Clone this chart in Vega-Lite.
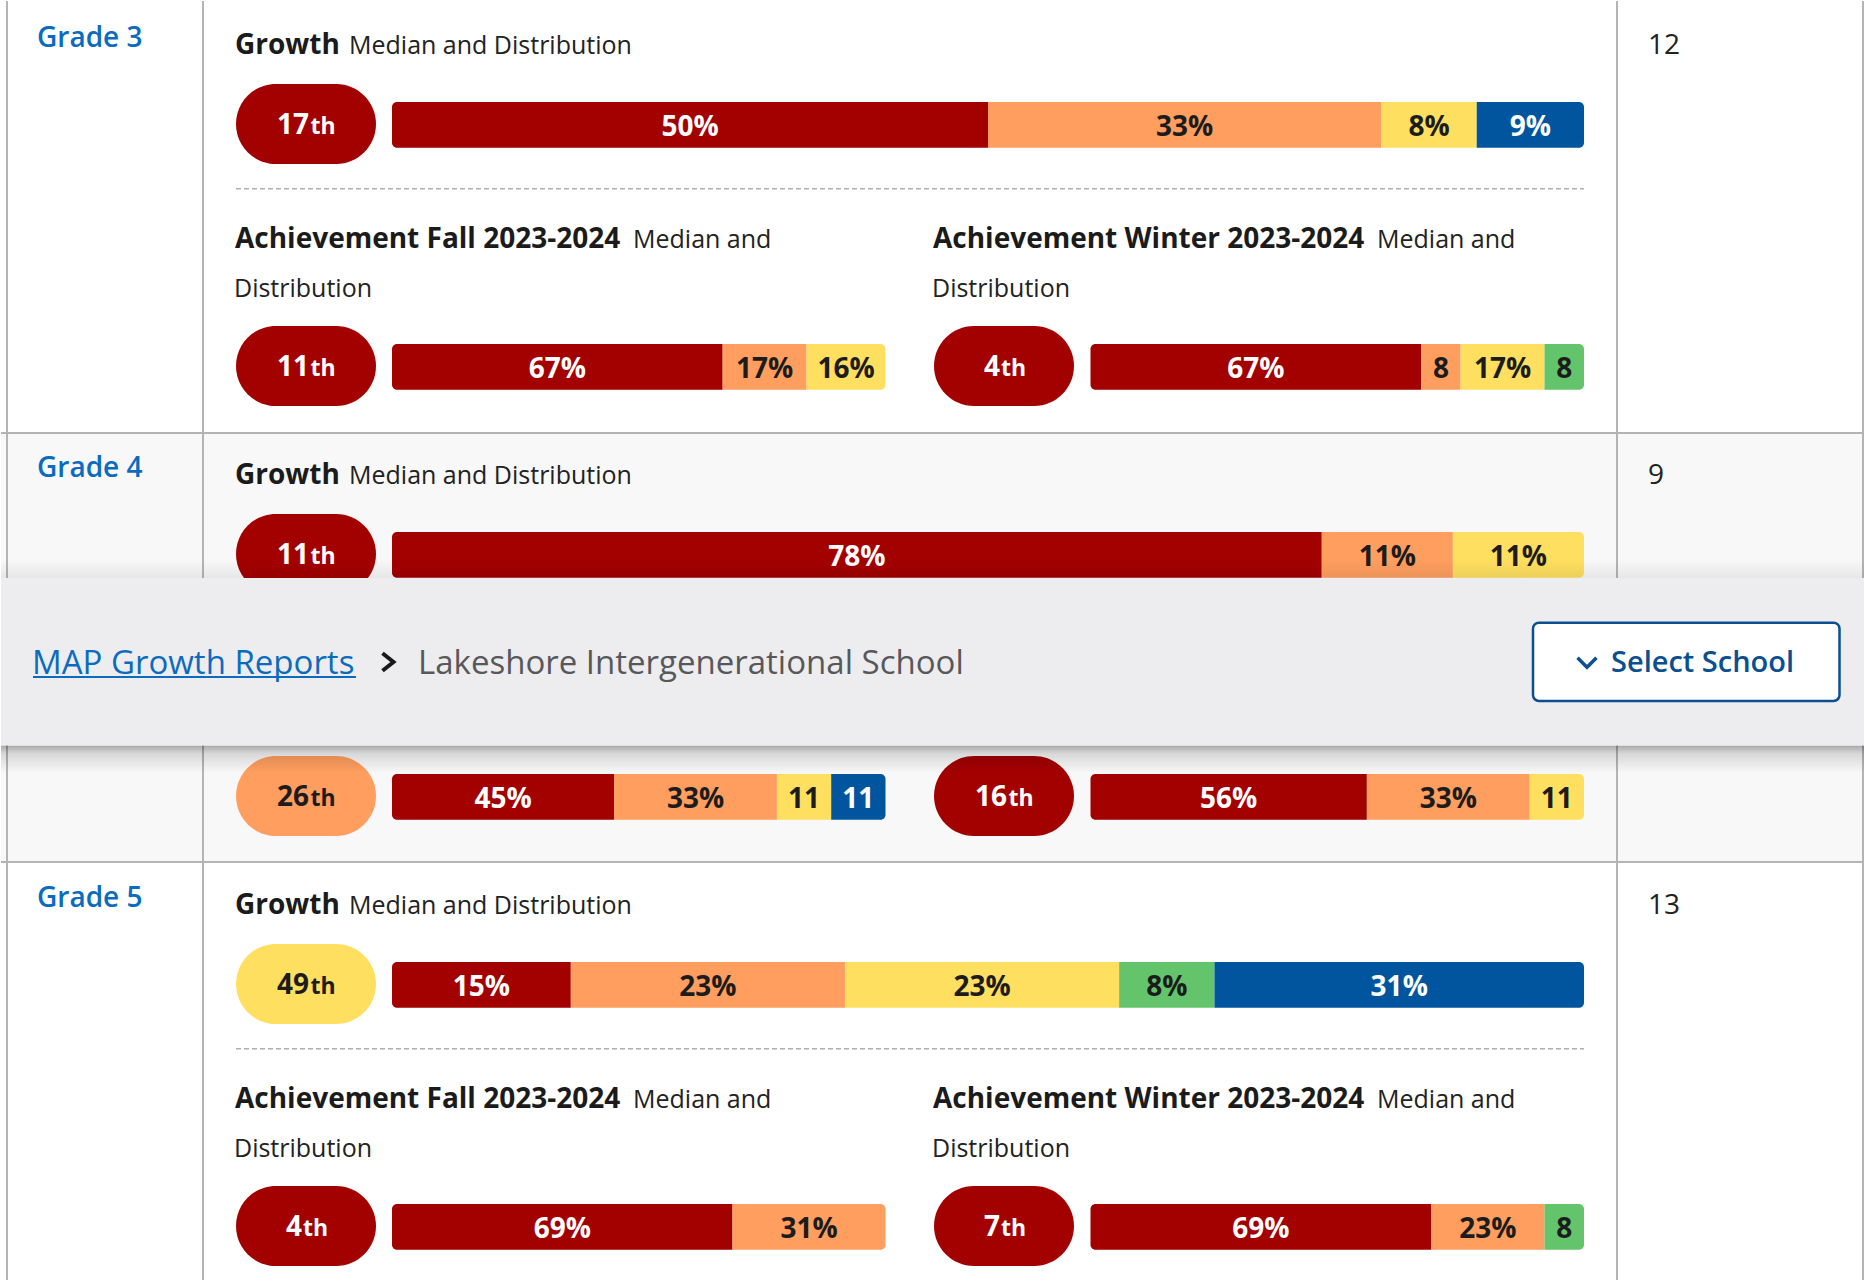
{
"$schema":"https://vega.github.io/schema/vega-lite/v6.json",
"width":1865,"height":1286,"padding":0,
"autosize":{"type":"fit","contains":"padding"},
"background":"#ffffff",
"config":{"view":{"stroke":null},"font":"Open Sans","axis":{"disable":true},"legend":{"disable":true}},
"datasets":{
 "grades":[{"grade":"Grade 3","students":12},{"grade":"Grade 4","students":9},{"grade":"Grade 5","students":13}],
 "edges":[{"edge":0},{"edge":1},{"edge":2},{"edge":3}],
 "sections":[
  {"grade":"Grade 3","section":"Growth","title":"Growth","sub":"Median and Distribution","sub2":"","median":"17","q":1},
  {"grade":"Grade 3","section":"Fall","title":"Achievement Fall 2023-2024","sub":"Median and","sub2":"Distribution","median":"11","q":1},
  {"grade":"Grade 3","section":"Winter","title":"Achievement Winter 2023-2024","sub":"Median and","sub2":"Distribution","median":"4","q":1},
  {"grade":"Grade 4","section":"Growth","title":"Growth","sub":"Median and Distribution","sub2":"","median":"11","q":1},
  {"grade":"Grade 4","section":"Fall","title":"Achievement Fall 2023-2024","sub":"Median and","sub2":"Distribution","median":"26","q":2},
  {"grade":"Grade 4","section":"Winter","title":"Achievement Winter 2023-2024","sub":"Median and","sub2":"Distribution","median":"16","q":1},
  {"grade":"Grade 5","section":"Growth","title":"Growth","sub":"Median and Distribution","sub2":"","median":"49","q":3},
  {"grade":"Grade 5","section":"Fall","title":"Achievement Fall 2023-2024","sub":"Median and","sub2":"Distribution","median":"4","q":1},
  {"grade":"Grade 5","section":"Winter","title":"Achievement Winter 2023-2024","sub":"Median and","sub2":"Distribution","median":"7","q":1}
 ],
 "dist":[
  {"grade":"Grade 3","section":"Growth","q":1,"pct":50,"label":"50%"},
  {"grade":"Grade 3","section":"Growth","q":2,"pct":33,"label":"33%"},
  {"grade":"Grade 3","section":"Growth","q":3,"pct":8,"label":"8%"},
  {"grade":"Grade 3","section":"Growth","q":5,"pct":9,"label":"9%"},
  {"grade":"Grade 3","section":"Fall","q":1,"pct":67,"label":"67%"},
  {"grade":"Grade 3","section":"Fall","q":2,"pct":17,"label":"17%"},
  {"grade":"Grade 3","section":"Fall","q":3,"pct":16,"label":"16%"},
  {"grade":"Grade 3","section":"Winter","q":1,"pct":67,"label":"67%"},
  {"grade":"Grade 3","section":"Winter","q":2,"pct":8,"label":"8"},
  {"grade":"Grade 3","section":"Winter","q":3,"pct":17,"label":"17%"},
  {"grade":"Grade 3","section":"Winter","q":4,"pct":8,"label":"8"},
  {"grade":"Grade 4","section":"Growth","q":1,"pct":78,"label":"78%"},
  {"grade":"Grade 4","section":"Growth","q":2,"pct":11,"label":"11%"},
  {"grade":"Grade 4","section":"Growth","q":3,"pct":11,"label":"11%"},
  {"grade":"Grade 4","section":"Fall","q":1,"pct":45,"label":"45%"},
  {"grade":"Grade 4","section":"Fall","q":2,"pct":33,"label":"33%"},
  {"grade":"Grade 4","section":"Fall","q":3,"pct":11,"label":"11"},
  {"grade":"Grade 4","section":"Fall","q":5,"pct":11,"label":"11"},
  {"grade":"Grade 4","section":"Winter","q":1,"pct":56,"label":"56%"},
  {"grade":"Grade 4","section":"Winter","q":2,"pct":33,"label":"33%"},
  {"grade":"Grade 4","section":"Winter","q":3,"pct":11,"label":"11"},
  {"grade":"Grade 5","section":"Growth","q":1,"pct":15,"label":"15%"},
  {"grade":"Grade 5","section":"Growth","q":2,"pct":23,"label":"23%"},
  {"grade":"Grade 5","section":"Growth","q":3,"pct":23,"label":"23%"},
  {"grade":"Grade 5","section":"Growth","q":4,"pct":8,"label":"8%"},
  {"grade":"Grade 5","section":"Growth","q":5,"pct":31,"label":"31%"},
  {"grade":"Grade 5","section":"Fall","q":1,"pct":69,"label":"69%"},
  {"grade":"Grade 5","section":"Fall","q":2,"pct":31,"label":"31%"},
  {"grade":"Grade 5","section":"Winter","q":1,"pct":69,"label":"69%"},
  {"grade":"Grade 5","section":"Winter","q":2,"pct":23,"label":"23%"},
  {"grade":"Grade 5","section":"Winter","q":4,"pct":8,"label":"8"}
 ],
 "banner":[{"item":"bar","text":""},{"item":"crumb","text":"MAP Growth Reports"},{"item":"current","text":"Lakeshore Intergenerational School"},{"item":"button","text":"Select School"}]
},
"resolve":{"scale":{"x":"independent","y":"independent","color":"independent"}},
"layer":[
 {"data":{"name":"grades"},"mark":{"type":"rect"},
  "encoding":{
   "y":{"field":"grade","type":"nominal","scale":{"type":"band","domain":["Grade 3","Grade 4","Grade 5"],"range":[2,1292],"paddingInner":0,"paddingOuter":0},"axis":null},
   "color":{"field":"grade","type":"nominal","scale":{"domain":["Grade 3","Grade 4","Grade 5"],"range":["#ffffff","#f8f8f8","#ffffff"]},"legend":null}}},
 {"data":{"name":"grades"},"transform":[{"filter":"datum.grade != 'Grade 3'"}],
  "mark":{"type":"rule","stroke":"#b4b4b7","strokeWidth":2},
  "encoding":{"y":{"field":"grade","type":"nominal","scale":{"type":"point","domain":["Grade 3","Grade 4","Grade 5"],"range":[3,861],"padding":0},"axis":null}}},
 {"data":{"name":"edges"},
  "mark":{"type":"rule","stroke":"#b4b4b7","strokeWidth":2},
  "encoding":{"x":{"field":"edge","type":"quantitative","scale":{"domain":[0,1,2,3],"range":[6,202,1616,1862],"nice":false,"zero":false},"axis":null}}},
 {"data":{"name":"grades"},
  "mark":{"type":"text","align":"left","baseline":"alphabetic","fontSize":28,"fontWeight":600,"color":"#0b6bbf","dx":30},
  "encoding":{
   "x":{"datum":0,"type":"quantitative","scale":{"domain":[0,1,2,3],"range":[6,202,1616,1862],"nice":false,"zero":false},"axis":null},
   "y":{"field":"grade","type":"nominal","scale":{"type":"point","domain":["Grade 3","Grade 4","Grade 5"],"range":[45.7,905.7],"padding":0},"axis":null},
   "text":{"field":"grade"}}},
 {"data":{"name":"grades"},
  "mark":{"type":"text","align":"left","baseline":"alphabetic","fontSize":28,"fontWeight":400,"color":"#222222","dx":31},
  "encoding":{
   "x":{"datum":2,"type":"quantitative","scale":{"domain":[0,1,2,3],"range":[6,202,1616,1862],"nice":false,"zero":false},"axis":null},
   "y":{"field":"grade","type":"nominal","scale":{"type":"point","domain":["Grade 3","Grade 4","Grade 5"],"range":[53.3,913.3],"padding":0},"axis":null},
   "text":{"field":"students"}}},
 {"data":{"name":"sections"},"transform":[{"filter":"datum.section == 'Growth'"}],
  "mark":{"type":"text","align":"left","baseline":"alphabetic","fontSize":28,"fontWeight":"bold","color":"#1b1b1b","dx":32},
  "encoding":{
   "x":{"datum":1,"type":"quantitative","scale":{"domain":[0,1,2,3],"range":[6,202,1616,1862],"nice":false,"zero":false},"axis":null},
   "y":{"field":"grade","type":"nominal","scale":{"type":"point","domain":["Grade 3","Grade 4","Grade 5"],"range":[53.3,913.3],"padding":0},"axis":null},
   "text":{"field":"title"}}},
 {"data":{"name":"sections"},"transform":[{"filter":"datum.section == 'Growth'"}],
  "mark":{"type":"text","align":"left","baseline":"alphabetic","fontSize":25,"fontWeight":400,"color":"#222222"},
  "encoding":{
   "x":{"field":"section","type":"nominal","scale":{"type":"point","domain":["Growth"],"range":[348,348],"padding":0},"axis":null},
   "y":{"field":"grade","type":"nominal","scale":{"type":"point","domain":["Grade 3","Grade 4","Grade 5"],"range":[53.3,913.3],"padding":0},"axis":null},
   "text":{"field":"sub"}}},
 {"data":{"name":"sections"},"transform":[{"filter":"datum.section != 'Growth' && datum.grade != 'Grade 4'"}],
  "mark":{"type":"text","align":"left","baseline":"alphabetic","fontSize":28,"fontWeight":"bold","color":"#1b1b1b"},
  "encoding":{
   "x":{"field":"section","type":"nominal","scale":{"type":"point","domain":["Fall","Winter"],"range":[234,932],"padding":0},"axis":null},
   "y":{"field":"grade","type":"nominal","scale":{"type":"point","domain":["Grade 3","Grade 4","Grade 5"],"range":[246.7,1106.7],"padding":0},"axis":null},
   "text":{"field":"title"}}},
 {"data":{"name":"sections"},"transform":[{"filter":"datum.section != 'Growth' && datum.grade != 'Grade 4'"}],
  "mark":{"type":"text","align":"left","baseline":"alphabetic","fontSize":25,"fontWeight":400,"color":"#222222"},
  "encoding":{
   "x":{"field":"section","type":"nominal","scale":{"type":"point","domain":["Fall","Winter"],"range":[632,1376],"padding":0},"axis":null},
   "y":{"field":"grade","type":"nominal","scale":{"type":"point","domain":["Grade 3","Grade 4","Grade 5"],"range":[246.7,1106.7],"padding":0},"axis":null},
   "text":{"field":"sub"}}},
 {"data":{"name":"sections"},"transform":[{"filter":"datum.section != 'Growth' && datum.grade != 'Grade 4'"}],
  "mark":{"type":"text","align":"left","baseline":"alphabetic","fontSize":25,"fontWeight":400,"color":"#222222"},
  "encoding":{
   "x":{"field":"section","type":"nominal","scale":{"type":"point","domain":["Fall","Winter"],"range":[233,931],"padding":0},"axis":null},
   "y":{"field":"grade","type":"nominal","scale":{"type":"point","domain":["Grade 3","Grade 4","Grade 5"],"range":[295.5,1155.5],"padding":0},"axis":null},
   "text":{"field":"sub2"}}},
 {"data":{"name":"grades"},"transform":[{"filter":"datum.grade != 'Grade 4'"}],
  "mark":{"type":"rule","stroke":"#b0b0b0","strokeWidth":1.5,"strokeDash":[5,3],"xOffset":33,"x2Offset":-33},
  "encoding":{
   "x":{"datum":1,"type":"quantitative","scale":{"domain":[0,1,2,3],"range":[6,202,1616,1862],"nice":false,"zero":false},"axis":null},
   "x2":{"datum":2},
   "y":{"field":"grade","type":"nominal","scale":{"type":"point","domain":["Grade 3","Grade 4","Grade 5"],"range":[187.7,1047.7],"padding":0},"axis":null}}},
 {"data":{"name":"sections"},"transform":[{"filter":"datum.section == 'Growth'"}],
  "mark":{"type":"point","shape":"M -0.4286 -0.5714 L 0.4286 -0.5714 C 0.7442 -0.5714 1 -0.3156 1 0 C 1 0.3156 0.7442 0.5714 0.4286 0.5714 L -0.4286 0.5714 C -0.7442 0.5714 -1 0.3156 -1 0 C -1 -0.3156 -0.7442 -0.5714 -0.4286 -0.5714 Z","size":19600,"filled":true,"opacity":1,"strokeWidth":0},
  "encoding":{
   "x":{"field":"section","type":"nominal","scale":{"type":"point","domain":["Growth"],"range":[305,305],"padding":0},"axis":null},
   "y":{"field":"grade","type":"nominal","scale":{"type":"point","domain":["Grade 3","Grade 4","Grade 5"],"range":[123,983],"padding":0},"axis":null},
   "color":{"field":"q","type":"ordinal","scale":{"domain":[1,2,3,4,5],"range":["#a30000","#ff9e5e","#ffdf5f","#63c46b","#00559f"]},"legend":null}}},
 {"data":{"name":"sections"},"transform":[{"filter":"datum.section != 'Growth'"}],
  "mark":{"type":"point","shape":"M -0.4286 -0.5714 L 0.4286 -0.5714 C 0.7442 -0.5714 1 -0.3156 1 0 C 1 0.3156 0.7442 0.5714 0.4286 0.5714 L -0.4286 0.5714 C -0.7442 0.5714 -1 0.3156 -1 0 C -1 -0.3156 -0.7442 -0.5714 -0.4286 -0.5714 Z","size":19600,"filled":true,"opacity":1,"strokeWidth":0},
  "encoding":{
   "x":{"field":"section","type":"nominal","scale":{"type":"point","domain":["Fall","Winter"],"range":[305,1003],"padding":0},"axis":null},
   "y":{"field":"grade","type":"nominal","scale":{"type":"point","domain":["Grade 3","Grade 4","Grade 5"],"range":[365,1225],"padding":0},"axis":null},
   "color":{"field":"q","type":"ordinal","scale":{"domain":[1,2,3,4,5],"range":["#a30000","#ff9e5e","#ffdf5f","#63c46b","#00559f"]},"legend":null}}},
 {"data":{"name":"sections"},"transform":[{"filter":"datum.section == 'Growth'"}],
  "mark":{"type":"text","align":"right","baseline":"alphabetic","fontSize":28,"fontWeight":"bold","dx":{"expr":"length(datum.median) > 1 ? 3 : -4"}},
  "encoding":{
   "x":{"field":"section","type":"nominal","scale":{"type":"point","domain":["Growth"],"range":[305,305],"padding":0},"axis":null},
   "y":{"field":"grade","type":"nominal","scale":{"type":"point","domain":["Grade 3","Grade 4","Grade 5"],"range":[133.3,993.3],"padding":0},"axis":null},
   "text":{"field":"median"},
   "color":{"field":"q","type":"ordinal","scale":{"domain":[1,2,3,4,5],"range":["#ffffff","#1c1c1c","#1c1c1c","#1c1c1c","#ffffff"]},"legend":null}}},
 {"data":{"name":"sections"},"transform":[{"filter":"datum.section == 'Growth'"}],
  "mark":{"type":"text","align":"left","baseline":"alphabetic","fontSize":23,"fontWeight":"bold","letterSpacing":1,"dx":{"expr":"length(datum.median) > 1 ? 4.5 : -3"}},
  "encoding":{
   "x":{"field":"section","type":"nominal","scale":{"type":"point","domain":["Growth"],"range":[305,305],"padding":0},"axis":null},
   "y":{"field":"grade","type":"nominal","scale":{"type":"point","domain":["Grade 3","Grade 4","Grade 5"],"range":[133.3,993.3],"padding":0},"axis":null},
   "text":{"value":"th"},
   "color":{"field":"q","type":"ordinal","scale":{"domain":[1,2,3,4,5],"range":["#ffffff","#1c1c1c","#1c1c1c","#1c1c1c","#ffffff"]},"legend":null}}},
 {"data":{"name":"sections"},"transform":[{"filter":"datum.section != 'Growth'"}],
  "mark":{"type":"text","align":"right","baseline":"alphabetic","fontSize":28,"fontWeight":"bold","dx":{"expr":"length(datum.median) > 1 ? 3 : -4"}},
  "encoding":{
   "x":{"field":"section","type":"nominal","scale":{"type":"point","domain":["Fall","Winter"],"range":[305,1003],"padding":0},"axis":null},
   "y":{"field":"grade","type":"nominal","scale":{"type":"point","domain":["Grade 3","Grade 4","Grade 5"],"range":[374.5,1234.5],"padding":0},"axis":null},
   "text":{"field":"median"},
   "color":{"field":"q","type":"ordinal","scale":{"domain":[1,2,3,4,5],"range":["#ffffff","#1c1c1c","#1c1c1c","#1c1c1c","#ffffff"]},"legend":null}}},
 {"data":{"name":"sections"},"transform":[{"filter":"datum.section != 'Growth'"}],
  "mark":{"type":"text","align":"left","baseline":"alphabetic","fontSize":23,"fontWeight":"bold","letterSpacing":1,"dx":{"expr":"length(datum.median) > 1 ? 4.5 : -3"}},
  "encoding":{
   "x":{"field":"section","type":"nominal","scale":{"type":"point","domain":["Fall","Winter"],"range":[305,1003],"padding":0},"axis":null},
   "y":{"field":"grade","type":"nominal","scale":{"type":"point","domain":["Grade 3","Grade 4","Grade 5"],"range":[374.5,1234.5],"padding":0},"axis":null},
   "text":{"value":"th"},
   "color":{"field":"q","type":"ordinal","scale":{"domain":[1,2,3,4,5],"range":["#ffffff","#1c1c1c","#1c1c1c","#1c1c1c","#ffffff"]},"legend":null}}},
 {"data":{"name":"dist"},
  "transform":[{"filter":"datum.section == 'Growth'"},{"stack":"pct","groupby":["grade","section"],"sort":[{"field":"q","order":"ascending"}],"as":["s0","s1"]}],
  "mark":{"type":"bar","cornerRadiusTopLeft":{"expr":"datum.s0 == 0 ? 5 : 0"},"cornerRadiusBottomLeft":{"expr":"datum.s0 == 0 ? 5 : 0"},"cornerRadiusTopRight":{"expr":"datum.s1 >= 100 ? 5 : 0"},"cornerRadiusBottomRight":{"expr":"datum.s1 >= 100 ? 5 : 0"}},
  "encoding":{
   "x":{"field":"s0","type":"quantitative","scale":{"domain":[0,100],"range":[391,1583],"nice":false,"zero":false},"axis":null},
   "x2":{"field":"s1"},
   "y":{"field":"grade","type":"nominal","scale":{"type":"band","domain":["Grade 3","Grade 4","Grade 5"],"range":[101,1006.7],"paddingInner":0.8937,"paddingOuter":0},"axis":null},
   "color":{"field":"q","type":"ordinal","scale":{"domain":[1,2,3,4,5],"range":["#a30000","#ff9e5e","#ffdf5f","#63c46b","#00559f"]},"legend":null}}},
 {"data":{"name":"dist"},
  "transform":[{"filter":"datum.section == 'Fall'"},{"stack":"pct","groupby":["grade","section"],"sort":[{"field":"q","order":"ascending"}],"as":["s0","s1"]}],
  "mark":{"type":"bar","cornerRadiusTopLeft":{"expr":"datum.s0 == 0 ? 5 : 0"},"cornerRadiusBottomLeft":{"expr":"datum.s0 == 0 ? 5 : 0"},"cornerRadiusTopRight":{"expr":"datum.s1 >= 100 ? 5 : 0"},"cornerRadiusBottomRight":{"expr":"datum.s1 >= 100 ? 5 : 0"}},
  "encoding":{
   "x":{"field":"s0","type":"quantitative","scale":{"domain":[0,100],"range":[391,884.5],"nice":false,"zero":false},"axis":null},
   "x2":{"field":"s1"},
   "y":{"field":"grade","type":"nominal","scale":{"type":"band","domain":["Grade 3","Grade 4","Grade 5"],"range":[343,1248.7],"paddingInner":0.8937,"paddingOuter":0},"axis":null},
   "color":{"field":"q","type":"ordinal","scale":{"domain":[1,2,3,4,5],"range":["#a30000","#ff9e5e","#ffdf5f","#63c46b","#00559f"]},"legend":null}}},
 {"data":{"name":"dist"},
  "transform":[{"filter":"datum.section == 'Winter'"},{"stack":"pct","groupby":["grade","section"],"sort":[{"field":"q","order":"ascending"}],"as":["s0","s1"]}],
  "mark":{"type":"bar","cornerRadiusTopLeft":{"expr":"datum.s0 == 0 ? 5 : 0"},"cornerRadiusBottomLeft":{"expr":"datum.s0 == 0 ? 5 : 0"},"cornerRadiusTopRight":{"expr":"datum.s1 >= 100 ? 5 : 0"},"cornerRadiusBottomRight":{"expr":"datum.s1 >= 100 ? 5 : 0"}},
  "encoding":{
   "x":{"field":"s0","type":"quantitative","scale":{"domain":[0,100],"range":[1089.5,1583],"nice":false,"zero":false},"axis":null},
   "x2":{"field":"s1"},
   "y":{"field":"grade","type":"nominal","scale":{"type":"band","domain":["Grade 3","Grade 4","Grade 5"],"range":[343,1248.7],"paddingInner":0.8937,"paddingOuter":0},"axis":null},
   "color":{"field":"q","type":"ordinal","scale":{"domain":[1,2,3,4,5],"range":["#a30000","#ff9e5e","#ffdf5f","#63c46b","#00559f"]},"legend":null}}},
 {"data":{"name":"dist"},
  "transform":[{"filter":"datum.section == 'Growth'"},{"stack":"pct","groupby":["grade","section"],"sort":[{"field":"q","order":"ascending"}],"as":["s0","s1"]},{"fold":["s0","s1"],"as":["edge","pos"]},{"aggregate":[{"op":"mean","field":"pos","as":"mid"}],"groupby":["grade","section","q","label"]}],
  "mark":{"type":"text","align":"center","baseline":"alphabetic","fontSize":28,"fontWeight":"bold"},
  "encoding":{
   "x":{"field":"mid","type":"quantitative","scale":{"domain":[0,100],"range":[391,1583],"nice":false,"zero":false},"axis":null},
   "y":{"field":"grade","type":"nominal","scale":{"type":"point","domain":["Grade 3","Grade 4","Grade 5"],"range":[134.5,994.5],"padding":0},"axis":null},
   "text":{"field":"label"},
   "color":{"field":"q","type":"ordinal","scale":{"domain":[1,2,3,4,5],"range":["#ffffff","#1c1c1c","#1c1c1c","#1c1c1c","#ffffff"]},"legend":null}}},
 {"data":{"name":"dist"},
  "transform":[{"filter":"datum.section == 'Fall'"},{"stack":"pct","groupby":["grade","section"],"sort":[{"field":"q","order":"ascending"}],"as":["s0","s1"]},{"fold":["s0","s1"],"as":["edge","pos"]},{"aggregate":[{"op":"mean","field":"pos","as":"mid"}],"groupby":["grade","section","q","label"]}],
  "mark":{"type":"text","align":"center","baseline":"alphabetic","fontSize":28,"fontWeight":"bold"},
  "encoding":{
   "x":{"field":"mid","type":"quantitative","scale":{"domain":[0,100],"range":[391,884.5],"nice":false,"zero":false},"axis":null},
   "y":{"field":"grade","type":"nominal","scale":{"type":"point","domain":["Grade 3","Grade 4","Grade 5"],"range":[376.5,1236.5],"padding":0},"axis":null},
   "text":{"field":"label"},
   "color":{"field":"q","type":"ordinal","scale":{"domain":[1,2,3,4,5],"range":["#ffffff","#1c1c1c","#1c1c1c","#1c1c1c","#ffffff"]},"legend":null}}},
 {"data":{"name":"dist"},
  "transform":[{"filter":"datum.section == 'Winter'"},{"stack":"pct","groupby":["grade","section"],"sort":[{"field":"q","order":"ascending"}],"as":["s0","s1"]},{"fold":["s0","s1"],"as":["edge","pos"]},{"aggregate":[{"op":"mean","field":"pos","as":"mid"}],"groupby":["grade","section","q","label"]}],
  "mark":{"type":"text","align":"center","baseline":"alphabetic","fontSize":28,"fontWeight":"bold"},
  "encoding":{
   "x":{"field":"mid","type":"quantitative","scale":{"domain":[0,100],"range":[1089.5,1583],"nice":false,"zero":false},"axis":null},
   "y":{"field":"grade","type":"nominal","scale":{"type":"point","domain":["Grade 3","Grade 4","Grade 5"],"range":[376.5,1236.5],"padding":0},"axis":null},
   "text":{"field":"label"},
   "color":{"field":"q","type":"ordinal","scale":{"domain":[1,2,3,4,5],"range":["#ffffff","#1c1c1c","#1c1c1c","#1c1c1c","#ffffff"]},"legend":null}}},
 {"data":{"name":"banner"},"transform":[{"filter":"datum.item == 'bar'"}],
  "mark":{"type":"rect","color":{"gradient":"linear","x1":0,"y1":0,"x2":0,"y2":1,"stops":[{"offset":0,"color":"rgba(0,0,0,0)"},{"offset":1,"color":"rgba(0,0,0,0.07)"}]}},
  "encoding":{"y":{"field":"item","type":"nominal","scale":{"type":"band","domain":["bar"],"range":[558,577],"paddingInner":0,"paddingOuter":0},"axis":null}}},
 {"data":{"name":"banner"},"transform":[{"filter":"datum.item == 'bar'"}],
  "mark":{"type":"rect","color":{"gradient":"linear","x1":0,"y1":0,"x2":0,"y2":1,"stops":[{"offset":0,"color":"rgba(0,0,0,0.32)"},{"offset":0.3,"color":"rgba(0,0,0,0.13)"},{"offset":1,"color":"rgba(0,0,0,0)"}]}},
  "encoding":{"y":{"field":"item","type":"nominal","scale":{"type":"band","domain":["bar"],"range":[744.5,772],"paddingInner":0,"paddingOuter":0},"axis":null}}},
 {"data":{"name":"banner"},"transform":[{"filter":"datum.item == 'bar'"}],
  "mark":{"type":"rect","color":"#ededef"},
  "encoding":{"y":{"field":"item","type":"nominal","scale":{"type":"band","domain":["bar"],"range":[577,744.5],"paddingInner":0,"paddingOuter":0},"axis":null}}},
 {"data":{"name":"banner"},"transform":[{"filter":"datum.item == 'crumb' || datum.item == 'current'"}],
  "mark":{"type":"text","align":"left","baseline":"alphabetic","fontSize":33,"fontWeight":400},
  "encoding":{
   "x":{"field":"item","type":"nominal","scale":{"type":"point","domain":["crumb","current"],"range":[31,417],"padding":0},"axis":null},
   "y":{"datum":"bar","type":"nominal","scale":{"type":"point","domain":["bar"],"range":[672.7,672.7],"padding":0},"axis":null},
   "text":{"field":"text"},
   "color":{"field":"item","type":"nominal","scale":{"domain":["crumb","current"],"range":["#0b6bbf","#58585b"]},"legend":null}}},
 {"data":{"name":"banner"},"transform":[{"filter":"datum.item == 'crumb'"}],
  "mark":{"type":"rule","stroke":"#0b6bbf","strokeWidth":2},
  "encoding":{
   "x":{"datum":"start","type":"nominal","scale":{"type":"point","domain":["start","end"],"range":[32,355],"padding":0},"axis":null},
   "x2":{"datum":"end"},
   "y":{"datum":"bar","type":"nominal","scale":{"type":"point","domain":["bar"],"range":[676,676],"padding":0},"axis":null}}},
 {"data":{"name":"banner"},"transform":[{"filter":"datum.item == 'crumb'"}],
  "mark":{"type":"point","shape":"M -0.5 -0.8 L 0.5 0 L -0.5 0.8","size":484,"filled":false,"opacity":1,"color":"#1a1a1a","strokeWidth":4,"strokeJoin":"miter"},
  "encoding":{
   "x":{"datum":"separator","type":"nominal","scale":{"type":"point","domain":["separator"],"range":[387,387],"padding":0},"axis":null},
   "y":{"datum":"bar","type":"nominal","scale":{"type":"point","domain":["bar"],"range":[661,661],"padding":0},"axis":null}}},
 {"data":{"name":"banner"},"transform":[{"filter":"datum.item == 'button'"}],
  "mark":{"type":"rect","fill":"#ffffff","stroke":"#0b4f91","strokeWidth":2.5,"cornerRadius":6},
  "encoding":{
   "x":{"field":"item","type":"nominal","scale":{"type":"band","domain":["button"],"range":[1532,1838.5],"paddingInner":0,"paddingOuter":0},"axis":null},
   "y":{"field":"item","type":"nominal","scale":{"type":"band","domain":["button"],"range":[621.7,700],"paddingInner":0,"paddingOuter":0},"axis":null}}},
 {"data":{"name":"banner"},"transform":[{"filter":"datum.item == 'button'"}],
  "mark":{"type":"text","align":"left","baseline":"alphabetic","fontSize":29,"fontWeight":600,"letterSpacing":2.4,"color":"#0b4f91"},
  "encoding":{
   "x":{"field":"item","type":"nominal","scale":{"type":"point","domain":["button"],"range":[1610,1610],"padding":0},"axis":null},
   "y":{"field":"item","type":"nominal","scale":{"type":"point","domain":["button"],"range":[671,671],"padding":0},"axis":null},
   "text":{"field":"text"}}},
 {"data":{"name":"banner"},"transform":[{"filter":"datum.item == 'button'"}],
  "mark":{"type":"point","shape":"M -0.9 -0.45 L 0 0.45 L 0.9 -0.45","size":441,"filled":false,"opacity":1,"color":"#0b4f91","strokeWidth":3.5,"strokeJoin":"miter"},
  "encoding":{
   "x":{"field":"item","type":"nominal","scale":{"type":"point","domain":["button"],"range":[1586,1586],"padding":0},"axis":null},
   "y":{"field":"item","type":"nominal","scale":{"type":"point","domain":["button"],"range":[661.5,661.5],"padding":0},"axis":null}}}
]
}
